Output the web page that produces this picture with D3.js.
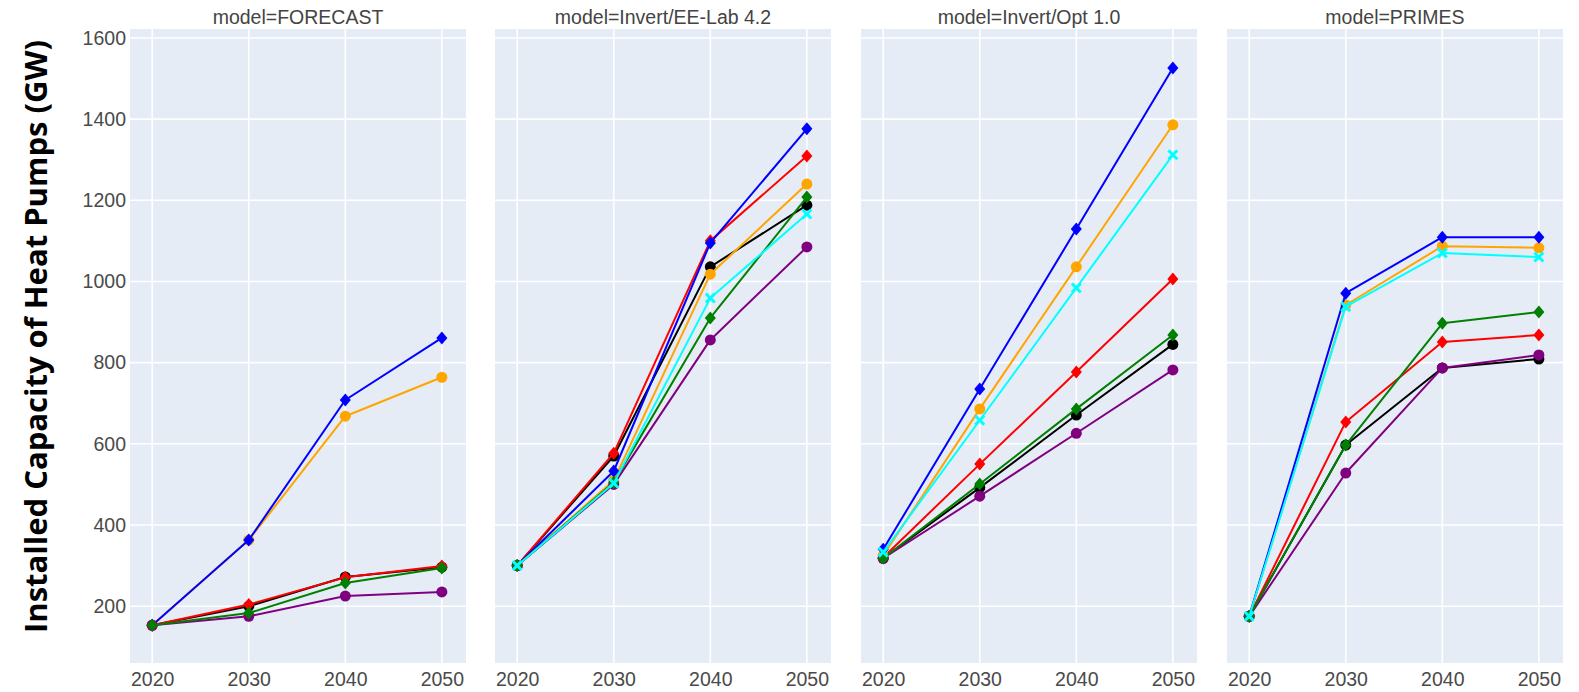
<!DOCTYPE html>
<html>
<head>
<meta charset="utf-8">
<script src="https://cdn.jsdelivr.net/npm/d3@7"></script>
<style>
  html, body { margin: 0; padding: 0; background: #ffffff; }
  svg { display: block; }
</style>
</head>
<body>
<svg id="chart" width="1579" height="692"></svg>
<script>
// Installed heat pump capacity (GW) per model and scenario
const years = [2020, 2030, 2040, 2050];
const models = ["FORECAST", "Invert/EE-Lab 4.2", "Invert/Opt 1.0", "PRIMES"];
const yTicks = [200, 400, 600, 800, 1000, 1200, 1400, 1600];
const xTicks = [2020, 2030, 2040, 2050];

// One array per scenario, one row per model (null = no run for that model)
const blueSeries   = [[153, 363, 708, 861], [300, 533, 1095, 1376], [340, 735, 1129, 1526], [175, 971, 1109, 1109]];
const orangeSeries = [[153, 363, 668, 764], [300, 510, 1018, 1240], [325, 686, 1036, 1386], [175, 942, 1087, 1083]];
const cyanSeries   = [null,                 [300, 503, 959, 1166],  [333, 658, 984, 1312],  [175, 938, 1070, 1060]];
const redSeries    = [[153, 204, 271, 299], [300, 577, 1100, 1309], [320, 550, 777, 1006],  [175, 654, 851, 868]];
const blackSeries  = [[153, 200, 272, 296], [300, 570, 1036, 1188], [318, 492, 671, 845],   [175, 597, 787, 809]];
const greenSeries  = [[153, 183, 257, 294], [300, 505, 910, 1208],  [318, 501, 686, 868],   [175, 597, 897, 925]];
const purpleSeries = [[153, 175, 225, 235], [300, 500, 856, 1085],  [318, 471, 626, 782],   [175, 528, 787, 819]];

// Trace order = drawing order
const traces = [
  { values: blackSeries,  color: "#000000", symbol: "circle" },
  { values: redSeries,    color: "#ff0000", symbol: "diamond" },
  { values: orangeSeries, color: "#ffa500", symbol: "circle" },
  { values: blueSeries,   color: "#0000ff", symbol: "diamond" },
  { values: purpleSeries, color: "#800080", symbol: "circle" },
  { values: greenSeries,  color: "#008000", symbol: "diamond" },
  { values: cyanSeries,   color: "#00ffff", symbol: "x" }
];

const svg = d3.select("#chart");
const panelLefts = [130, 495, 861, 1227];
const panelW = 336;
const plotTop = 29, plotBottom = 663;

const y = d3.scaleLinear().domain([60, 1622]).range([plotBottom, plotTop]);

// Marker path generators
const diamond = (s) => `M0,${-s}L${s * 0.85},0L0,${s}L${-s * 0.85},0Z`;
const xMark = (s) => {
  const a = s, w = s * 0.38;
  return `M${-a},${-a + w}L${-a + w},${-a}L0,${-w}L${a - w},${-a}L${a},${-a + w}L${w},0` +
         `L${a},${a - w}L${a - w},${a}L0,${w}L${-a + w},${a}L${-a},${a - w}L${-w},0Z`;
};

models.forEach((model, mi) => {
  const left = panelLefts[mi];
  const x = d3.scaleLinear().domain([2017.7, 2052.5]).range([left, left + panelW]);
  const g = svg.append("g");

  // plot background
  g.append("rect")
    .attr("x", left).attr("y", plotTop)
    .attr("width", panelW).attr("height", plotBottom - plotTop)
    .attr("fill", "#e5ecf6");

  // grid lines
  g.append("g").selectAll("line").data(yTicks).join("line")
    .attr("x1", left).attr("x2", left + panelW)
    .attr("y1", d => y(d)).attr("y2", d => y(d))
    .attr("stroke", "#ffffff").attr("stroke-width", 1.6);
  g.append("g").selectAll("line").data(xTicks).join("line")
    .attr("x1", d => x(d)).attr("x2", d => x(d))
    .attr("y1", plotTop).attr("y2", plotBottom)
    .attr("stroke", "#ffffff").attr("stroke-width", 1.6);

  // x axis
  const xa = g.append("g")
    .attr("transform", `translate(0,${plotBottom})`)
    .call(d3.axisBottom(x).tickValues(xTicks).tickFormat(d3.format("d")).tickSize(0).tickPadding(9));
  xa.select(".domain").remove();
  xa.selectAll("text")
    .attr("font-family", "'Liberation Sans', Arial, sans-serif")
    .attr("font-size", 19.5).attr("fill", "#4a4a4a");

  // y axis labels on the first panel only
  if (mi === 0) {
    const ya = g.append("g")
      .attr("transform", `translate(${left},0)`)
      .call(d3.axisLeft(y).tickValues(yTicks).tickFormat(d3.format("d")).tickSize(0).tickPadding(4));
    ya.select(".domain").remove();
    ya.selectAll("text")
      .attr("font-family", "'Liberation Sans', Arial, sans-serif")
      .attr("font-size", 19.5).attr("fill", "#4a4a4a");
  }

  // facet title
  g.append("text")
    .attr("x", left + panelW / 2).attr("y", 24)
    .attr("text-anchor", "middle")
    .attr("font-family", "'Liberation Sans', Arial, sans-serif")
    .attr("font-size", 19.5).attr("fill", "#444444")
    .text("model=" + model);

  // traces
  const line = d3.line().x((d, i) => x(years[i])).y(d => y(d));
  traces.forEach(t => {
    const vals = t.values[mi];
    if (!vals) return;
    const tg = g.append("g");
    tg.append("path")
      .attr("d", line(vals))
      .attr("fill", "none")
      .attr("stroke", t.color)
      .attr("stroke-width", 2)
      .attr("stroke-linejoin", "round");
    tg.selectAll("path.pt").data(vals).join("path")
      .attr("class", "pt")
      .attr("transform", (d, i) => `translate(${x(years[i])},${y(d)})`)
      .attr("d", t.symbol === "diamond" ? diamond(6.5) : t.symbol === "x" ? xMark(5.5) : d3.symbol(d3.symbolCircle, 95)())
      .attr("fill", t.color);
  });
});

// y axis title
svg.append("text")
  .attr("transform", "translate(47,336.5) rotate(-90)")
  .attr("text-anchor", "middle")
  .attr("font-family", "'Open Sans', sans-serif")
  .attr("font-weight", "bold")
  .attr("font-size", 30)
  .attr("fill", "#000000")
  .attr("textLength", 593)
  .attr("lengthAdjust", "spacingAndGlyphs")
  .text("Installed Capacity of Heat Pumps (GW)");
</script>
</body>
</html>
